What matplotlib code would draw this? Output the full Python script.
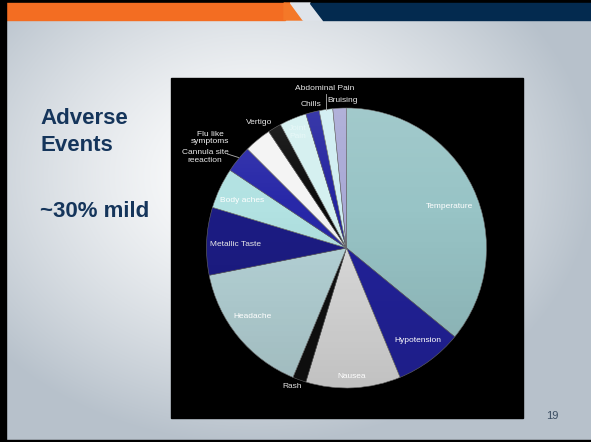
import numpy as np
import matplotlib.pyplot as plt
from matplotlib.patches import Rectangle, Polygon, Circle

W, H = 591, 442

# adverse event counts, clockwise from 12 o'clock
labels = ["Temperature", "Hypotension", "Nausea", "Rash", "Headache",
          "Metallic Taste", "Body aches", "Cannula site\nreeaction",
          "Flu like\nsymptoms", "Vertigo", "Joint\nPain", "Chills",
          "Abdominal Pain", "Bruising"]
counts = [23, 5, 7, 1, 10, 5, 3, 2, 2, 1, 2, 1, 1, 1]
colors = ["#98c4c6", "#22229a", "#dcdcdc", "#101010", "#b6d4d8",
          "#1c1c84", "#b2e2e2", "#2828a8", "#f4f4f4", "#0c0c0c",
          "#d4f0f0", "#2424a0", "#d0eef2", "#a9a9d6"]

# label anchor points (pixel coords, y from top) and text colours
label_pos = [(449, 206), (418, 341), (352, 377), (292, 386), (252, 317),
             (235, 244), (242, 201), (205, 156.5), (210, 138), (259, 122.5),
             (298, 132.5), (311, 105), (325, 89), (342.5, 100.5)]
label_col = ["white", "white", "white", "#e0e0e0", "white",
             "#e8e8e8", "white", "#e8e8e8", "#f0f0f0", "#e8e8e8",
             "#e8f8f8", "#e8e8e8", "#e8e8e8", "#e8e8e8"]

cx, cy, R = 346.5, H - 248, 140

fig = plt.figure(figsize=(W / 100, H / 100), dpi=100)

# slide background
bg = fig.add_axes([0, 0, 1, 1])
bg.set_xlim(0, W)
bg.set_ylim(H, 0)
bg.axis('off')
yy, xx = np.mgrid[0:H, 0:W]
d = np.sqrt(((xx - 255) / 340.0) ** 2 + ((yy - 175) / 270.0) ** 2)
t = np.clip(d, 0, 1)[..., None] ** 1.4
c1 = np.array([0xb7, 0xc1, 0xcb]) / 255.0
img = (1 - t) * np.ones(3) + t * c1
bg.imshow(img, extent=(0, W, H, 0), aspect='auto', zorder=0)

bg.add_patch(Rectangle((0, 0), W, 3, color='black', zorder=2))
bg.add_patch(Rectangle((5.5, 3), 279, 17, color='#f36d22', zorder=2))
bg.add_patch(Polygon([(284, 3), (290.5, 3), (303, 20), (284, 20)], color='#f47828', zorder=2))
bg.add_patch(Polygon([(290.5, 3), (310, 3), (323, 20), (303, 20)], color='#dfe4ea', zorder=2))
bg.add_patch(Polygon([(310, 3), (W, 3), (W, 20), (323, 20)], color='#032a4f', zorder=2))
bg.add_patch(Rectangle((0, 0), 5.5, H, color='black', zorder=2))
bg.add_patch(Rectangle((0, 440), W, 2, color='black', zorder=2))
bg.add_patch(Rectangle((171, 78), 352, 340, color='black', zorder=2))

title_kw = dict(fontsize=16, fontweight='bold', color='#15355b',
                family='Liberation Sans', va='baseline', ha='left')
bg.text(40, 124.3, "Adverse", **title_kw)
bg.text(40, 151, "Events", **title_kw)
bg.text(40, 217.3, "~30% mild", **title_kw)
bg.text(552, 418.7, "19", fontsize=8, color='#3a4d62', family='Liberation Sans',
        ha='center', va='baseline')

# pie
ax = fig.add_axes([0, 0, 1, 1])
ax.axis('off')
wedges, _ = ax.pie(counts, colors=colors, startangle=90, counterclock=False,
                   center=(cx, cy), radius=R,
                   wedgeprops=dict(edgecolor='#6a6a6a', linewidth=0.4))

# soft shading over the pie
g = np.linspace(0, 1, 200)[:, None]
shade = np.zeros((200, 1, 4))
shade[..., :3] = np.where(g < 0.35, 1.0, 0.0)[..., None]
shade[..., 3] = np.where(g < 0.35, (0.35 - g) / 0.35 * 0.10, (g - 0.35) / 0.65 * 0.12)
im = ax.imshow(shade, extent=(cx - R, cx + R, cy - R, cy + R), aspect='auto', zorder=3)
im.set_clip_path(Circle((cx, cy), R, transform=ax.transData))

for lab, (x, y), col in zip(labels, label_pos, label_col):
    ax.text(x, H - y, lab, fontsize=6.0, color=col, family='Liberation Sans',
            ha='center', va='center', linespacing=1.0, zorder=5)

ax.plot([326, 326], [H - 94, H - 110], color='#b0b0b0', lw=0.6, zorder=5)
ax.plot([227.5, 238.5], [H - 154, H - 157.5], color='#b0b0b0', lw=0.6, zorder=5)

ax.set_xlim(0, W)
ax.set_ylim(0, H)
ax.set_aspect('equal')

fig.savefig("out.png", dpi=100)
